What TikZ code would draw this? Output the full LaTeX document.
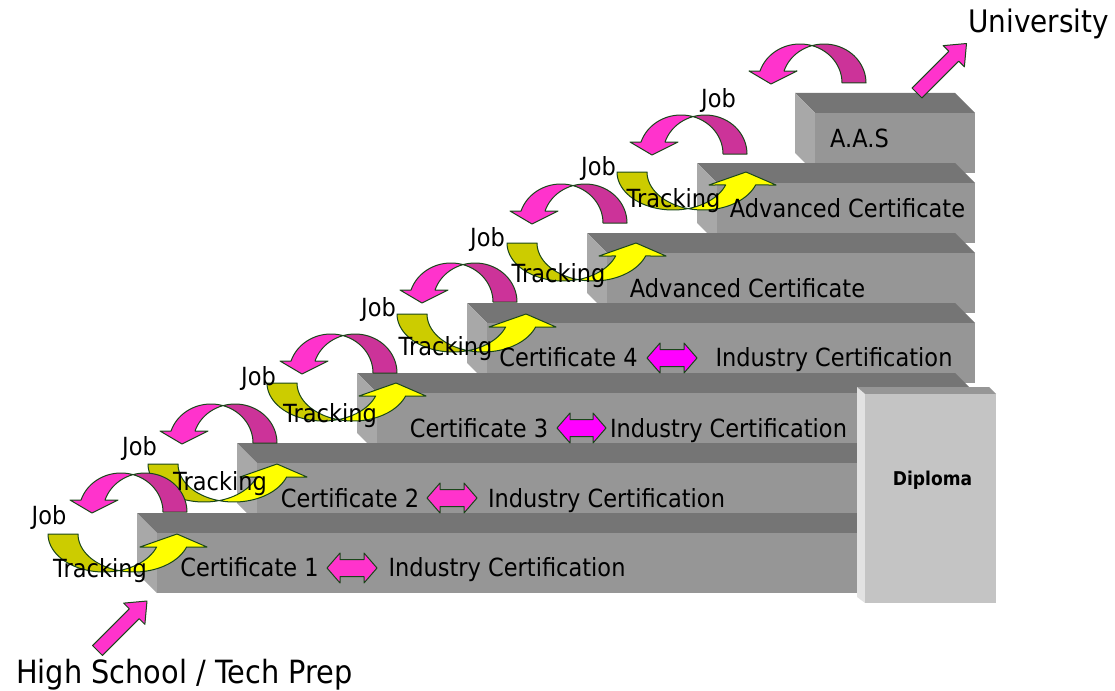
\documentclass[tikz,border=0pt]{standalone}
\usepackage{fontspec}
\setmainfont{DejaVu Sans}[FakeStretch=0.9]
\definecolor{topc}{RGB}{117,117,117}
\definecolor{frontc}{RGB}{150,150,150}
\definecolor{sidec}{RGB}{168,168,168}
\definecolor{diptop}{RGB}{150,150,150}
\definecolor{dipside}{RGB}{226,226,226}
\definecolor{dipfront}{RGB}{196,196,196}
\definecolor{oliveC}{RGB}{204,204,0}
\definecolor{yelC}{RGB}{255,255,0}
\definecolor{darkmagC}{RGB}{204,51,153}
\definecolor{pinkC}{RGB}{255,51,204}
\definecolor{magC}{RGB}{255,0,255}
\definecolor{edgeC}{RGB}{25,70,25}
\tikzset{
  shp/.style={draw=edgeC, line width=1pt, line join=round},
  lbl/.style={font=\fontsize{25}{30}\selectfont, inner sep=0pt, anchor=base},
}
\newcommand\StepBox[3]{%
  \fill[topc] (#1,#2) -- (#3-20,#2) -- (#3,#2+20) -- (#1+20,#2+20) -- cycle;
  \fill[sidec] (#1,#2) -- (#1+20,#2+20) -- (#1+20,#2+80) -- (#1,#2+60) -- cycle;
  \fill[frontc] (#1+20,#2+20) rectangle (#3,#2+80);
}
\newcommand\MagArrow[2]{%
  \path[shp, fill=darkmagC] plot[domain=0:106.6, samples=25, variable=\t] ({#1-42+42*cos(\t)},{#2-39*sin(\t)})
     -- plot[domain=0:73.4, samples=20, variable=\t] ({#1-66+42*cos(73.4-\t)},{#2-39*sin(73.4-\t)}) -- cycle;
  \path[shp, fill=pinkC] plot[domain=73.4:162.1, samples=25, variable=\t] ({#1-66+42*cos(\t)},{#2-39*sin(\t)})
     -- (#1-117,#2-12) -- (#1-95,#2+1) -- (#1-69,#2-12)
     -- plot[domain=0:55.5, samples=20, variable=\t] ({#1-42+42*cos(162.1-\t)},{#2-39*sin(162.1-\t)}) -- cycle;
}
\newcommand\OliArrow[2]{%
  \path[shp, fill=oliveC] plot[domain=0:105.5, samples=25, variable=\t] ({#1+56+56*cos(180-\t)},{#2+38*sin(180-\t)})
     -- plot[domain=105.5:180, samples=20, variable=\t] ({#1+86+56*cos(\t)},{#2+38*sin(\t)}) -- cycle;
  \path[shp, fill=yelC] plot[domain=0:85.5, samples=25, variable=\t] ({#1+86+56*cos(105.5-\t)},{#2+38*sin(105.5-\t)})
     -- (#1+159,#2+13) -- (#1+129,#2) -- (#1+92,#2+13)
     -- plot[domain=20:74.5, samples=20, variable=\t] ({#1+56+56*cos(\t)},{#2+38*sin(\t)}) -- cycle;
}
\newcommand\DblArrow[4]{% color, x0, x1, yc
  \path[shp, fill=#1] (#2,#4) -- (#2+13,#4-15) -- (#2+13,#4-8.5) -- (#3-13,#4-8.5) -- (#3-13,#4-15)
     -- (#3,#4) -- (#3-13,#4+15) -- (#3-13,#4+8.5) -- (#2+13,#4+8.5) -- (#2+13,#4+15) -- cycle;
}
\newcommand\BlockArrow[2]{%
  \begin{scope}[shift={(#1,#2)}, rotate=45]
    \path[shp, fill=pinkC] (0,-7) -- (52,-7) -- (52,-15) -- (70,0) -- (52,15) -- (52,7) -- (0,7) -- cycle;
  \end{scope}
}
\begin{document}
\begin{tikzpicture}[x=1pt, y=-1pt]
\useasboundingbox (0,0) rectangle (1115,690);
% steps, back to front
\StepBox{795}{93}{975}
\StepBox{697}{163}{975}
\StepBox{587}{233}{975}
\StepBox{467}{303}{975}
\StepBox{357}{373}{975}
\StepBox{237}{443}{975}
\StepBox{137}{513}{975}
% diploma
\fill[diptop] (857,387) -- (989,387) -- (996,394) -- (865,394) -- cycle;
\fill[dipside] (857,387) -- (865,394) -- (865,603) -- (857,597) -- cycle;
\fill[dipfront] (865,394) rectangle (996,603);
% curved arrows, top pair first
\MagArrow{866}{83}
\OliArrow{617}{172}
\MagArrow{747}{154}
\OliArrow{507}{243}
\MagArrow{627}{223}
\OliArrow{397}{314}
\MagArrow{517}{302}
\OliArrow{267}{383}
\MagArrow{397}{373}
\OliArrow{148}{464}
\MagArrow{277}{443}
\OliArrow{48}{534}
\MagArrow{187}{512}
% straight arrows
\BlockArrow{97.5}{650.5}
\BlockArrow{917}{93}
% double arrows
\DblArrow{pinkC}{327}{377}{568}
\DblArrow{pinkC}{427}{477}{498}
\DblArrow{magC}{557}{606}{428}
\DblArrow{magC}{647}{697}{358}
% step texts
\node[lbl] (c1) at (249.5,576) {Certificate 1};
\node[lbl] (i1) at (507,576) {Industry Certification};
\node[lbl] (c2) at (350,507) {Certificate 2};
\node[lbl] (i2) at (606.5,507) {Industry Certification};
\node[lbl] (c3) at (479,437) {Certificate 3};
\node[lbl] (i3) at (728.5,437) {Industry Certification};
\node[lbl] (c4) at (568.5,366) {Certificate 4};
\node[lbl] (i4) at (834,366) {Industry Certification};
\node[lbl] (a5) at (747.5,297) {Advanced Certificate};
\node[lbl] (a6) at (847.5,217) {Advanced Certificate};
\node[lbl] (aas) at (859.5,147) {A.A.S};
\node[lbl, font=\fontsize{19}{22}\selectfont\bfseries] (dip) at (932.5,485) {Diploma};
\node[lbl, font=\fontsize{31}{36}\selectfont] (uni) at (1038.5,33) {University};
\node[lbl, font=\fontsize{32}{38}\selectfont] (hs) at (184.5,683) {High School / Tech Prep};
% job / tracking labels
\node[lbl] (j1) at (49,524) {Job};
\node[lbl] (j2) at (139.5,455) {Job};
\node[lbl] (j3) at (258.5,385) {Job};
\node[lbl] (j4) at (378.5,316) {Job};
\node[lbl] (j5) at (487.5,246) {Job};
\node[lbl] (j6) at (598.5,175) {Job};
\node[lbl] (j7) at (718.5,107) {Job};
\node[lbl] (t1) at (100,577) {Tracking};
\node[lbl] (t2) at (220,490) {Tracking};
\node[lbl] (t3) at (330,422) {Tracking};
\node[lbl] (t4) at (445.5,355) {Tracking};
\node[lbl] (t5) at (558.5,282) {Tracking};
\node[lbl] (t6) at (673.5,207) {Tracking};
\end{tikzpicture}
\end{document}
